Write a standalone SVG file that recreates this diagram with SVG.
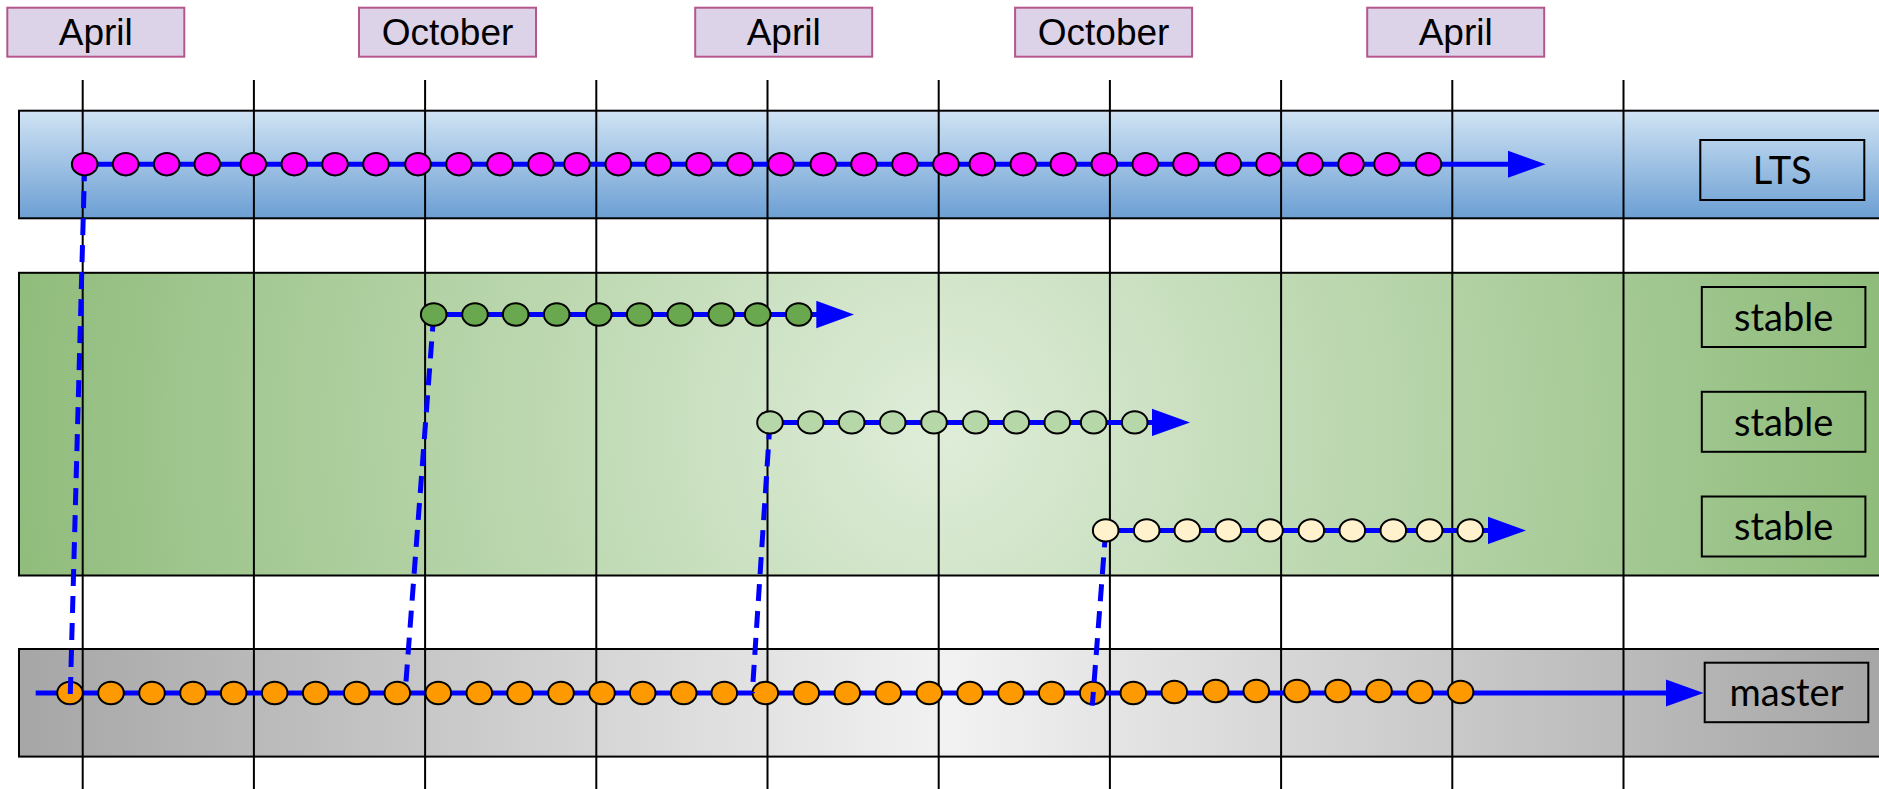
<svg xmlns="http://www.w3.org/2000/svg" width="1879" height="789" viewBox="0 0 1879 789">
<style>
.band{stroke:#000;stroke-width:2}
.grid line{stroke:#000;stroke-width:2}
.month rect{fill:#dcd3e9;stroke:#b5578a;stroke-width:2}
.month text{font-family:"Liberation Sans",Arial,sans-serif;font-size:37px;fill:#000;text-anchor:middle}
.label rect{fill:none;stroke:#000;stroke-width:2}
.label text{font-family:Lato,"Open Sans",sans-serif;font-size:38px;fill:#000;text-anchor:middle}
.flow{stroke:#0000ff;stroke-width:5;fill:none}
.arrow{marker-end:url(#ah)}
.dash{stroke:#0000ff;stroke-width:5;fill:none;stroke-dasharray:17 10}
.c{stroke:#000;stroke-width:2}
.lts ellipse{fill:#ff00ff}
.s1 ellipse{fill:#6aa84f}
.s2 ellipse{fill:#b6d7a8}
.s3 ellipse{fill:#fff2cc}
.mst ellipse{fill:#ff9900}
ellipse{stroke:#000;stroke-width:2}
</style>
<defs>
<linearGradient id="gLts" x1="0" y1="0" x2="0" y2="1">
<stop offset="0" stop-color="#d0e3f4"/>
<stop offset="1" stop-color="#6c9fd3"/>
</linearGradient>
<radialGradient id="gStable" gradientUnits="userSpaceOnUse" cx="940" cy="430" r="940">
<stop offset="0" stop-color="#dfedd9"/>
<stop offset="1" stop-color="#8fbc7b"/>
</radialGradient>
<linearGradient id="gMaster" gradientUnits="userSpaceOnUse" x1="19" y1="0" x2="1879" y2="0">
<stop offset="0" stop-color="#a6a6a6"/>
<stop offset="0.5" stop-color="#f2f2f2"/>
<stop offset="1" stop-color="#a6a6a6"/>
</linearGradient>
<marker id="ah" markerUnits="userSpaceOnUse" markerWidth="38" markerHeight="28" refX="8" refY="14" orient="auto">
<path d="M0,0.3 L38,14 L0,27.7 z" fill="#0000ff"/>
</marker>
</defs>

<g id="bands">
<rect id="band-lts" class="band" x="19" y="110.7" width="1875" height="107.6" fill="url(#gLts)"/>
<rect id="band-stable" class="band" x="19" y="272.8" width="1875" height="302.7" fill="url(#gStable)"/>
<rect id="band-master" class="band" x="19" y="649" width="1875" height="107.6" fill="url(#gMaster)"/>
</g>

<g id="grid" class="grid">
<line x1="82.7" y1="80" x2="82.7" y2="789"/>
<line x1="253.9" y1="80" x2="253.9" y2="789"/>
<line x1="425.1" y1="80" x2="425.1" y2="789"/>
<line x1="596.3" y1="80" x2="596.3" y2="789"/>
<line x1="767.5" y1="80" x2="767.5" y2="789"/>
<line x1="938.7" y1="80" x2="938.7" y2="789"/>
<line x1="1109.9" y1="80" x2="1109.9" y2="789"/>
<line x1="1281.1" y1="80" x2="1281.1" y2="789"/>
<line x1="1452.3" y1="80" x2="1452.3" y2="789"/>
<line x1="1623.5" y1="80" x2="1623.5" y2="789"/>
</g>

<g id="month-1" class="month"><rect x="7.3" y="7.7" width="177" height="49"/><text x="95.8" y="45">April</text></g>
<g id="month-2" class="month"><rect x="359" y="7.7" width="177" height="49"/><text x="447.5" y="45">October</text></g>
<g id="month-3" class="month"><rect x="695.2" y="7.7" width="177" height="49"/><text x="783.7" y="45">April</text></g>
<g id="month-4" class="month"><rect x="1015.1" y="7.7" width="177" height="49"/><text x="1103.6" y="45">October</text></g>
<g id="month-5" class="month"><rect x="1367.2" y="7.7" width="177" height="49"/><text x="1455.7" y="45">April</text></g>

<g id="label-lts" class="label"><rect x="1700.3" y="140" width="164" height="60"/><text x="1782.3" y="184">LTS</text></g>
<g id="label-stable-1" class="label"><rect x="1701.8" y="287" width="163.6" height="60"/><text x="1783.6" y="331">stable</text></g>
<g id="label-stable-2" class="label"><rect x="1701.8" y="391.8" width="163.6" height="60"/><text x="1783.6" y="435.5">stable</text></g>
<g id="label-stable-3" class="label"><rect x="1701.8" y="496.5" width="163.6" height="60"/><text x="1783.6" y="540">stable</text></g>
<g id="label-master" class="label"><rect x="1704.7" y="662.7" width="163.6" height="59.5"/><text x="1786.5" y="706">master</text></g>

<g id="master" class="mst">
<line class="flow arrow" x1="35.7" y1="693" x2="1673.6" y2="693"/>
<ellipse cx="70" cy="693" rx="12.8" ry="11.2"/><ellipse cx="111" cy="693" rx="12.8" ry="11.2"/><ellipse cx="152" cy="693" rx="12.8" ry="11.2"/><ellipse cx="193" cy="693" rx="12.8" ry="11.2"/><ellipse cx="233.7" cy="693" rx="12.8" ry="11.2"/><ellipse cx="274.7" cy="693" rx="12.8" ry="11.2"/><ellipse cx="315.7" cy="693" rx="12.8" ry="11.2"/><ellipse cx="356.7" cy="693" rx="12.8" ry="11.2"/><ellipse cx="397.3" cy="693" rx="12.8" ry="11.2"/><ellipse cx="438.3" cy="693" rx="12.8" ry="11.2"/><ellipse cx="479.3" cy="693" rx="12.8" ry="11.2"/><ellipse cx="520" cy="693" rx="12.8" ry="11.2"/><ellipse cx="561" cy="693" rx="12.8" ry="11.2"/><ellipse cx="602" cy="693" rx="12.8" ry="11.2"/><ellipse cx="642.7" cy="693" rx="12.8" ry="11.2"/><ellipse cx="683.7" cy="693" rx="12.8" ry="11.2"/><ellipse cx="724.3" cy="693" rx="12.8" ry="11.2"/><ellipse cx="765.3" cy="693" rx="12.8" ry="11.2"/><ellipse cx="806.3" cy="693" rx="12.8" ry="11.2"/><ellipse cx="847.3" cy="693" rx="12.8" ry="11.2"/><ellipse cx="888.3" cy="693" rx="12.8" ry="11.2"/><ellipse cx="929.3" cy="693" rx="12.8" ry="11.2"/><ellipse cx="970" cy="693" rx="12.8" ry="11.2"/><ellipse cx="1011" cy="693" rx="12.8" ry="11.2"/><ellipse cx="1051.7" cy="693" rx="12.8" ry="11.2"/><ellipse cx="1092.7" cy="693" rx="12.8" ry="11.2"/><ellipse cx="1133.3" cy="693" rx="12.8" ry="11.2"/><ellipse cx="1174.3" cy="692" rx="12.8" ry="11.2"/><ellipse cx="1215.7" cy="691" rx="12.8" ry="11.2"/><ellipse cx="1256.3" cy="691" rx="12.8" ry="11.2"/><ellipse cx="1297" cy="691" rx="12.8" ry="11.2"/><ellipse cx="1338" cy="691" rx="12.8" ry="11.2"/><ellipse cx="1379" cy="691" rx="12.8" ry="11.2"/><ellipse cx="1420" cy="692" rx="12.8" ry="11.2"/><ellipse cx="1460.6" cy="692" rx="12.8" ry="11.2"/>
</g>

<g id="connectors">
<line class="dash" x1="84.7" y1="164.2" x2="70" y2="704.5"/>
<line class="dash" x1="433.7" y1="314.5" x2="405.7" y2="685.3"/>
<line class="dash" x1="770" y1="422.4" x2="752.3" y2="693"/>
<line class="dash" x1="1105.7" y1="530.4" x2="1092.3" y2="705.6"/>
</g>

<g id="lts" class="lts">
<line class="flow arrow" x1="84.7" y1="164.2" x2="1515.6" y2="164.2"/>
<ellipse cx="84.7" cy="164.2" rx="12.8" ry="11.2"/><ellipse cx="125.7" cy="164.2" rx="12.8" ry="11.2"/><ellipse cx="166.7" cy="164.2" rx="12.8" ry="11.2"/><ellipse cx="207.3" cy="164.2" rx="12.8" ry="11.2"/><ellipse cx="253.3" cy="164.2" rx="12.8" ry="11.2"/><ellipse cx="294.3" cy="164.2" rx="12.8" ry="11.2"/><ellipse cx="335" cy="164.2" rx="12.8" ry="11.2"/><ellipse cx="376" cy="164.2" rx="12.8" ry="11.2"/><ellipse cx="418" cy="164.2" rx="12.8" ry="11.2"/><ellipse cx="459" cy="164.2" rx="12.8" ry="11.2"/><ellipse cx="500" cy="164.2" rx="12.8" ry="11.2"/><ellipse cx="541" cy="164.2" rx="12.8" ry="11.2"/><ellipse cx="577" cy="164.2" rx="12.8" ry="11.2"/><ellipse cx="618.3" cy="164.2" rx="12.8" ry="11.2"/><ellipse cx="658.3" cy="164.2" rx="12.8" ry="11.2"/><ellipse cx="699" cy="164.2" rx="12.8" ry="11.2"/><ellipse cx="740" cy="164.2" rx="12.8" ry="11.2"/><ellipse cx="781" cy="164.2" rx="12.8" ry="11.2"/><ellipse cx="823.3" cy="164.2" rx="12.8" ry="11.2"/><ellipse cx="864" cy="164.2" rx="12.8" ry="11.2"/><ellipse cx="905" cy="164.2" rx="12.8" ry="11.2"/><ellipse cx="946" cy="164.2" rx="12.8" ry="11.2"/><ellipse cx="982.3" cy="164.2" rx="12.8" ry="11.2"/><ellipse cx="1023.3" cy="164.2" rx="12.8" ry="11.2"/><ellipse cx="1063.3" cy="164.2" rx="12.8" ry="11.2"/><ellipse cx="1104.3" cy="164.2" rx="12.8" ry="11.2"/><ellipse cx="1145.3" cy="164.2" rx="12.8" ry="11.2"/><ellipse cx="1186" cy="164.2" rx="12.8" ry="11.2"/><ellipse cx="1228.3" cy="164.2" rx="12.8" ry="11.2"/><ellipse cx="1269" cy="164.2" rx="12.8" ry="11.2"/><ellipse cx="1310" cy="164.2" rx="12.8" ry="11.2"/><ellipse cx="1351" cy="164.2" rx="12.8" ry="11.2"/><ellipse cx="1387" cy="164.2" rx="12.8" ry="11.2"/><ellipse cx="1428.5" cy="164.2" rx="12.8" ry="11.2"/>
</g>

<g id="stable-1" class="s1">
<line class="flow arrow" x1="433.7" y1="314.5" x2="824.3" y2="314.5"/>
<ellipse cx="433.7" cy="314.5" rx="12.8" ry="11.2"/><ellipse cx="475" cy="314.5" rx="12.8" ry="11.2"/><ellipse cx="515.7" cy="314.5" rx="12.8" ry="11.2"/><ellipse cx="556.7" cy="314.5" rx="12.8" ry="11.2"/><ellipse cx="598.7" cy="314.5" rx="12.8" ry="11.2"/><ellipse cx="639.7" cy="314.5" rx="12.8" ry="11.2"/><ellipse cx="680.3" cy="314.5" rx="12.8" ry="11.2"/><ellipse cx="721.3" cy="314.5" rx="12.8" ry="11.2"/><ellipse cx="757.7" cy="314.5" rx="12.8" ry="11.2"/><ellipse cx="798.7" cy="314.5" rx="12.8" ry="11.2"/>
</g>

<g id="stable-2" class="s2">
<line class="flow arrow" x1="770" y1="422.4" x2="1160" y2="422.4"/>
<ellipse cx="770" cy="422.4" rx="12.8" ry="11.2"/><ellipse cx="810.7" cy="422.4" rx="12.8" ry="11.2"/><ellipse cx="851.7" cy="422.4" rx="12.8" ry="11.2"/><ellipse cx="892.7" cy="422.4" rx="12.8" ry="11.2"/><ellipse cx="934" cy="422.4" rx="12.8" ry="11.2"/><ellipse cx="975.7" cy="422.4" rx="12.8" ry="11.2"/><ellipse cx="1016.3" cy="422.4" rx="12.8" ry="11.2"/><ellipse cx="1057.3" cy="422.4" rx="12.8" ry="11.2"/><ellipse cx="1093.7" cy="422.4" rx="12.8" ry="11.2"/><ellipse cx="1134.7" cy="422.4" rx="12.8" ry="11.2"/>
</g>

<g id="stable-3" class="s3">
<line class="flow arrow" x1="1105.7" y1="530.4" x2="1496" y2="530.4"/>
<ellipse cx="1105.7" cy="530.4" rx="12.8" ry="11.2"/><ellipse cx="1146.7" cy="530.4" rx="12.8" ry="11.2"/><ellipse cx="1187.3" cy="530.4" rx="12.8" ry="11.2"/><ellipse cx="1228.3" cy="530.4" rx="12.8" ry="11.2"/><ellipse cx="1270" cy="530.4" rx="12.8" ry="11.2"/><ellipse cx="1311.3" cy="530.4" rx="12.8" ry="11.2"/><ellipse cx="1352.3" cy="530.4" rx="12.8" ry="11.2"/><ellipse cx="1393.3" cy="530.4" rx="12.8" ry="11.2"/><ellipse cx="1429.6" cy="530.4" rx="12.8" ry="11.2"/><ellipse cx="1470.2" cy="530.4" rx="12.8" ry="11.2"/>
</g>
</svg>
